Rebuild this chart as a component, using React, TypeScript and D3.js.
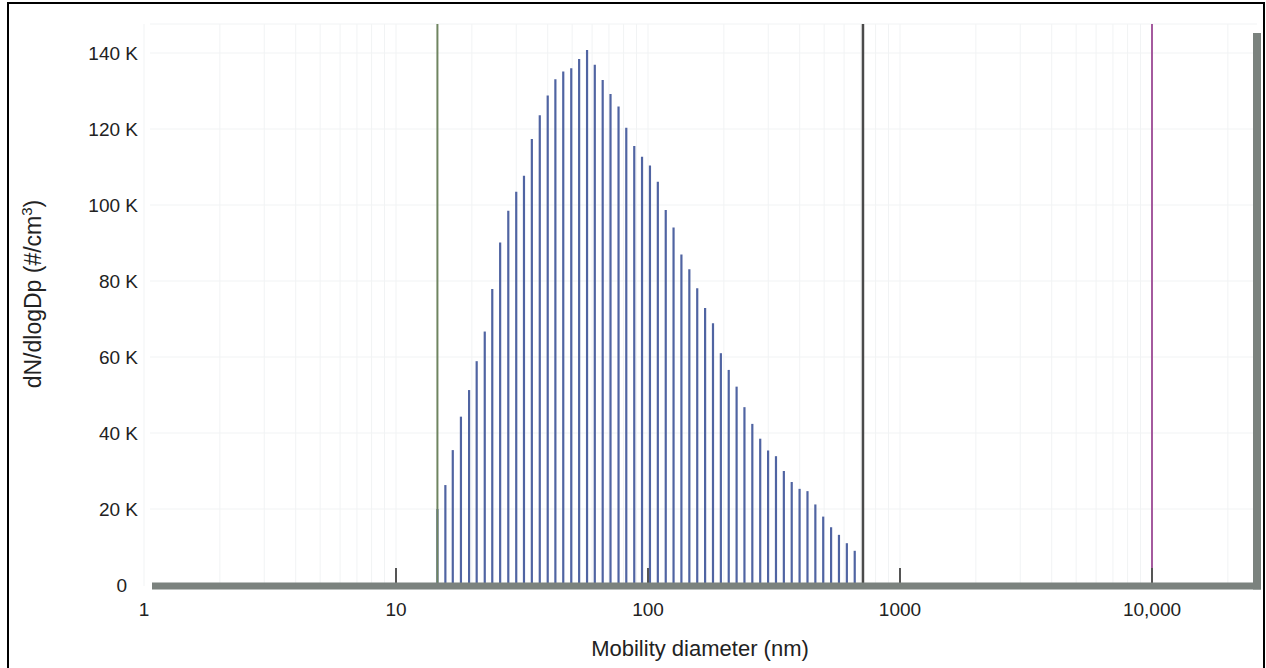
import React from "react";
import * as d3 from "d3";

// Channel midpoint diameters (nm), 32 channels per decade
const diameters = [
  14.6, 15.7, 16.8, 18.1, 19.5, 20.9, 22.5, 24.1, 25.9, 27.9,
  30.0, 32.2, 34.6, 37.2, 40.0, 42.9, 46.1, 49.6, 53.3, 57.3,
  61.5, 66.1, 71.0, 76.4, 82.0, 88.2, 94.7, 101.8, 109.4, 117.6,
  126.3, 135.7, 145.9, 156.8, 168.5, 181.1, 194.6, 209.1, 224.7, 241.4,
  259.4, 278.8, 299.6, 322.0, 346.0, 371.8, 399.5, 429.4, 461.4, 495.8,
  532.8, 572.5, 615.3, 661.2,
];

// dN/dlogDp (#/cm3)
const concentrations = [
  20000, 26300, 35500, 44300, 51300, 58900, 66700, 77900, 90100, 98500,
  103500, 107700, 117400, 123600, 128800, 133100, 135100, 136000, 138400, 140800,
  136900, 132900, 129200, 125900, 120300, 115500, 112700, 110400, 106100, 98700,
  94100, 87000, 83100, 78100, 72900, 68900, 61000, 56600, 52200, 46800,
  42400, 38500, 35400, 33900, 30000, 27100, 25300, 24700, 21200, 18000,
  15200, 13200, 11000, 9000,
];

const yTicks = [0, 20000, 40000, 60000, 80000, 100000, 120000, 140000];
const xTicks = [1, 10, 100, 1000, 10000];
const xTickLabels = ["1", "10", "100", "1000", "10,000"];
const xMarkTicks = [10, 100, 1000, 10000];

// Reference lines (nm)
const lowerLimit = 14.6;
const upperLimit = 713;
const extraLine = 10000;

const FONT = "'Liberation Sans', Arial, Helvetica, sans-serif";

export default function App() {
  const W = 1266;
  const H = 668;
  const x = d3.scaleLog().domain([1, 10000]).range([144, 1152]);
  const y = d3.scaleLinear().domain([0, 140000]).range([585, 53]);
  const plotTop = 24;
  const plotRight = 1257;
  const baseY = 586;

  const gridX: number[] = [];
  for (let e = 0; e <= 4; e++) {
    for (let m = 1; m <= 9; m++) {
      const v = m * Math.pow(10, e);
      if (x(v) <= plotRight) gridX.push(v);
    }
  }
  const gridY = yTicks.filter((t) => t > 0);

  return (
    <div style={{ position: "absolute", left: 0, top: 0, width: W, height: H }}>
      <svg width={W} height={H} style={{ display: "block", background: "#fff" }}>
        {/* frame */}
        <path d={`M8,${H + 5} V3 H1264 V${H + 5}`} fill="none" stroke="#000" strokeWidth={2} />

        {/* gridlines */}
        <g stroke="#f1f3f4" strokeWidth={1}>
          {gridX.map((v, i) => (
            <line key={"gx" + i} x1={x(v)} x2={x(v)} y1={plotTop} y2={baseY} />
          ))}
          {gridY.map((v, i) => (
            <line key={"gy" + i} x1={150} x2={plotRight} y1={y(v)} y2={y(v)} />
          ))}
          <line x1={150} x2={plotRight} y1={plotTop} y2={plotTop} />
        </g>

        {/* bars */}
        <g stroke="#5064a2" strokeWidth={2.2}>
          {diameters.map((d, i) => (
            <line key={"b" + i} x1={x(d)} x2={x(d)} y1={y(0)} y2={y(concentrations[i])} />
          ))}
        </g>

        {/* reference lines */}
        <line x1={x(lowerLimit)} x2={x(lowerLimit)} y1={plotTop} y2={baseY} stroke="#6f8560" strokeWidth={2} />
        <line x1={x(upperLimit)} x2={x(upperLimit)} y1={plotTop} y2={baseY} stroke="#4a4a4a" strokeWidth={2.5} />
        <line x1={x(extraLine)} x2={x(extraLine)} y1={plotTop} y2={baseY} stroke="#a45a9e" strokeWidth={2} />

        {/* tick marks */}
        <g stroke="#555" strokeWidth={2}>
          {xMarkTicks.map((v, i) => (
            <line key={"t" + i} x1={x(v)} x2={x(v)} y1={568} y2={baseY} />
          ))}
        </g>

        {/* axis bars */}
        <rect x={152} y={582.5} width={1261 - 152} height={7} fill="#7b827e" />
        <rect x={1253} y={33} width={8} height={589.5 - 33} fill="#7b827e" />

        {/* y tick labels */}
        <g fontFamily={FONT} fontSize={19} fill="#222">
          {yTicks.map((v, i) => (
            <text key={"yl" + i} x={v === 0 ? 127 : 138} y={y(v) + 7} textAnchor="end">
              {v === 0 ? "0" : `${v / 1000} K`}
            </text>
          ))}
        </g>

        {/* x tick labels */}
        <g fontFamily={FONT} fontSize={19} fill="#222">
          {xTicks.map((v, i) => (
            <text key={"xl" + i} x={x(v)} y={616} textAnchor="middle">
              {xTickLabels[i]}
            </text>
          ))}
        </g>

        {/* axis titles */}
        <text x={700} y={656} textAnchor="middle" fontFamily={FONT} fontSize={22} fill="#222">
          Mobility diameter (nm)
        </text>
        <text
          transform="translate(41,294) rotate(-90)"
          textAnchor="middle"
          fontFamily={FONT}
          fontSize={23}
          fill="#222"
        >
          dN/dlogDp (#/cm<tspan dy={-9} fontSize={15}>3</tspan>
          <tspan dy={9}>)</tspan>
        </text>
      </svg>
    </div>
  );
}
